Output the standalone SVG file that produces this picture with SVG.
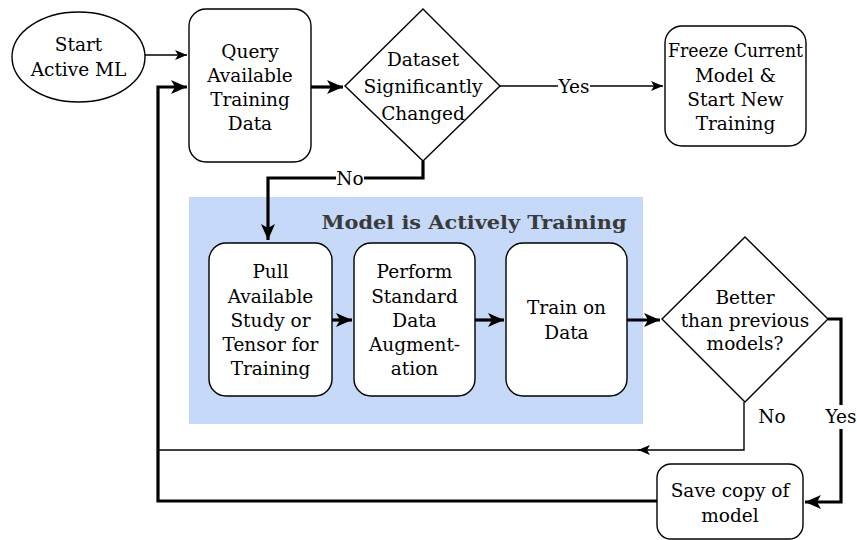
<svg xmlns="http://www.w3.org/2000/svg" width="857" height="540" viewBox="0 0 857 540">
<style>
.n{fill:#fff;stroke:#000;stroke-width:1.4}
.t{font-family:'DejaVu Serif',serif;font-size:18.5px;fill:#000;text-anchor:middle;dominant-baseline:central}
.thin{fill:none;stroke:#000;stroke-width:1.4}
.thick{fill:none;stroke:#000;stroke-width:3.2}
.lb{fill:#fff}
</style>
<defs>
<marker id="ak" markerUnits="userSpaceOnUse" markerWidth="18" markerHeight="16" refX="16" refY="7" orient="auto">
<path d="M0,0 L16,7 L0,14 L4,7 z" fill="#000"/>
</marker>
<marker id="an" markerUnits="userSpaceOnUse" markerWidth="14" markerHeight="12" refX="12" refY="5" orient="auto">
<path d="M0,0 L12,5 L0,10 L3,5 z" fill="#000"/>
</marker>
</defs>
<rect id="cluster" x="189" y="197" width="454" height="227" fill="#c6d9f8"/>
<text class="t" x="474" y="222" font-weight="bold" style="fill:#3a3a3a" textLength="305" lengthAdjust="spacingAndGlyphs">Model is Actively Training</text>
<g id="connectors">
<path class="thin" d="M145,55 L187,55" marker-end="url(#an)"/>
<path class="thick" d="M311,87 L343,87" marker-end="url(#ak)"/>
<path class="thin" d="M500,86 L663,86" marker-end="url(#an)"/>
<rect class="lb" x="558" y="74" width="32" height="24"/>
<text class="t" x="574" y="86">Yes</text>
<path class="thick" d="M423,161 L423,178 L268,178 L268,240" marker-end="url(#ak)"/>
<rect class="lb" x="336" y="167" width="28" height="22"/>
<text class="t" x="350" y="178">No</text>
<path class="thick" d="M332,320 L352,320" marker-end="url(#ak)"/>
<path class="thick" d="M475,320 L504,320" marker-end="url(#ak)"/>
<path class="thick" d="M627,320 L660,320" marker-end="url(#ak)"/>
<path class="thick" d="M828,319 L841,319 L841,502 L805,502" marker-end="url(#ak)"/>
<rect class="lb" x="825" y="405" width="32" height="24"/>
<text class="t" x="841" y="416">Yes</text>
<path class="thin" d="M744,402 L744,450 L638,450" marker-end="url(#an)"/>
<path class="thin" d="M640,450 L158,450"/>
<text class="t" x="772" y="416">No</text>
<path class="thick" d="M657,501 L158,501 L158,87 L187,87" marker-end="url(#ak)"/>
</g>
<g id="start">
<ellipse class="n" cx="78.5" cy="57" rx="66.5" ry="45"/>
<text class="t" x="78.5" y="44">Start</text>
<text class="t" x="78.5" y="69">Active ML</text>
</g>
<g id="query">
<rect class="n" x="189" y="9" width="122" height="153" rx="17"/>
<text class="t" x="250" y="51">Query</text>
<text class="t" x="250" y="75">Available</text>
<text class="t" x="250" y="99">Training</text>
<text class="t" x="250" y="123">Data</text>
</g>
<g id="dataset">
<polygon class="n" points="423,9 500,86 423,161 345,86"/>
<text class="t" x="423" y="59">Dataset</text>
<text class="t" x="423" y="86" textLength="119" lengthAdjust="spacingAndGlyphs">Significantly</text>
<text class="t" x="423" y="113">Changed</text>
</g>
<g id="freeze">
<rect class="n" x="665" y="26" width="141" height="120" rx="17"/>
<text class="t" x="735.5" y="50" textLength="135" lengthAdjust="spacingAndGlyphs">Freeze Current</text>
<text class="t" x="735.5" y="75">Model &amp;</text>
<text class="t" x="735.5" y="99">Start New</text>
<text class="t" x="735.5" y="123">Training</text>
</g>
<g id="pull">
<rect class="n" x="209" y="243" width="123" height="153" rx="17"/>
<text class="t" x="270.5" y="271">Pull</text>
<text class="t" x="270.5" y="296">Available</text>
<text class="t" x="270.5" y="320">Study or</text>
<text class="t" x="270.5" y="344">Tensor for</text>
<text class="t" x="270.5" y="368">Training</text>
</g>
<g id="perform">
<rect class="n" x="354" y="243" width="121" height="153" rx="17"/>
<text class="t" x="414.5" y="271">Perform</text>
<text class="t" x="414.5" y="296">Standard</text>
<text class="t" x="414.5" y="320">Data</text>
<text class="t" x="414.5" y="344">Augment-</text>
<text class="t" x="414.5" y="368">ation</text>
</g>
<g id="train">
<rect class="n" x="506" y="243" width="121" height="153" rx="17"/>
<text class="t" x="566.5" y="307">Train on</text>
<text class="t" x="566.5" y="332">Data</text>
</g>
<g id="better">
<polygon class="n" points="745,237 828,319 745,402 662,319"/>
<text class="t" x="745" y="297">Better</text>
<text class="t" x="745" y="320">than previous</text>
<text class="t" x="745" y="343">models?</text>
</g>
<g id="save">
<rect class="n" x="657" y="464" width="146" height="75" rx="14"/>
<text class="t" x="730" y="490">Save copy of</text>
<text class="t" x="730" y="515">model</text>
</g>
</svg>
